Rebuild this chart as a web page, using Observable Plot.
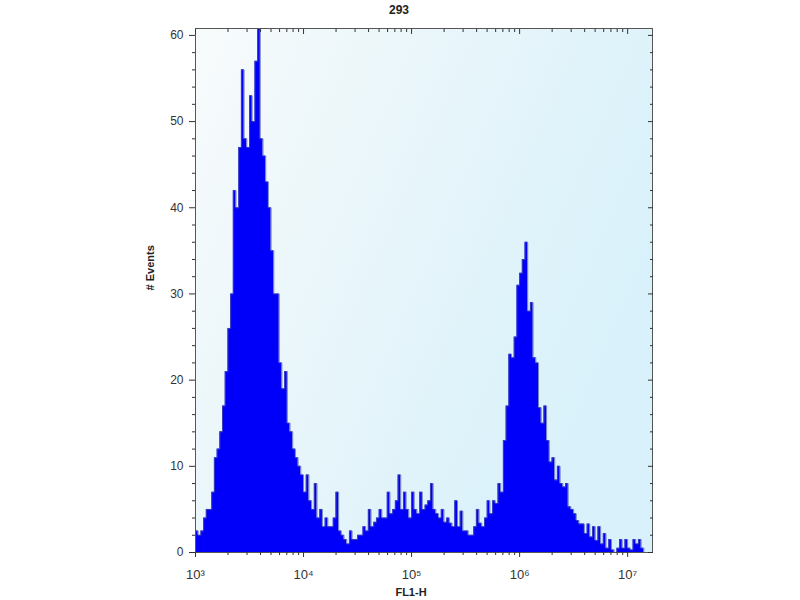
<!DOCTYPE html>
<html><head><meta charset="utf-8">
<script src="https://cdn.jsdelivr.net/npm/d3@7"></script>
<script src="https://cdn.jsdelivr.net/npm/@observablehq/plot@0.6"></script>
<style>body{margin:0;background:#fff;} #chart svg{display:block;}</style>
</head><body><div id="chart"></div>
<script>
const title = "293";
const xLabel = "FL1-H";
const yLabel = "# Events";
// histogram channels: log10 start and channel width (decades)
const logStart = 3;
const binWidth = 0.025;
const counts = [
 2.5, 2, 2.5, 4, 5, 5, 7, 11, 12, 14,
 17, 21, 26, 30, 42, 40, 47, 56, 48, 47,
 53, 50, 57, 62, 48, 46, 43, 40, 35, 30,
 30, 22, 19, 21, 15, 14, 12, 11, 10, 9,
 7, 9, 6, 5, 8, 4, 5, 3, 4, 3,
 3, 4, 7, 2.5, 2, 1.5, 1, 2.5, 1.5, 1.5,
 2, 2, 3, 2.5, 5, 3, 3.5, 4, 5, 4,
 4, 7, 4.5, 5, 6, 9, 5, 7, 5, 4,
 7, 5, 4.5, 7, 5, 5.5, 6, 8, 5, 4.5,
 4, 5, 3.5, 4, 3.4, 3, 6, 3, 4.8, 2.5,
 2.5, 2, 2, 3, 5, 3.4, 3, 4, 6, 4.5,
 6, 5.7, 8, 7, 13, 17, 23, 22.6, 25, 31,
 32.4, 34, 36, 28, 29, 22.6, 22, 16.8, 15, 17,
 13, 10.5, 11, 8.4, 10, 8, 7.6, 8, 5.3, 5,
 4.5, 3.7, 3.3, 3.3, 2.2, 3.3, 1.8, 3, 1.4, 3,
 1, 2.2, 0.5, 1.5, 0.3, 0, 0.5, 1.5, 0.5, 1.5,
 0.5, 0.3, 1.5, 1, 1.5, 0.5, 0
];
const xMajorTicks = [1e3, 1e4, 1e5, 1e6, 1e7];
const xTickLabels = ["10³", "10⁴", "10⁵", "10⁶", "10⁷"];
const xMinorMultipliers = [2, 3, 4, 5, 6, 7, 8, 9];
const yMajorTicks = [0, 10, 20, 30, 40, 50, 60];
const yMinorTicks = [2,4,6,8,12,14,16,18,22,24,26,28,32,34,36,38,42,44,46,48,52,54,56,58];
const xDomain = [1e3, Math.pow(10, 7.23)];
const yDomain = [0, 60.8];

const bins = counts.map((c, i) => ({
  x1: Math.pow(10, logStart + i * binWidth),
  x2: Math.pow(10, logStart + (i + 1) * binWidth),
  y: c
}));
const steps = bins.flatMap(b => [{x: b.x1, y: b.y}, {x: b.x2, y: b.y}]);
const xMinorTicks = xMajorTicks.slice(0, 4).flatMap(d => xMinorMultipliers.map(m => d * m));

const labelOf = d => xTickLabels[xMajorTicks.indexOf(d)];
const axisColor = "#333";

const chart = Plot.plot({
  width: 800,
  height: 600,
  marginLeft: 195,
  marginRight: 148,
  marginTop: 28,
  marginBottom: 48,
  style: {fontFamily: "Liberation Sans, Arial, sans-serif", color: axisColor, background: "#fff"},
  x: {type: "log", domain: xDomain},
  y: {domain: yDomain},
  marks: [
    Plot.frame({fill: "url(#bggrad)", stroke: null}),
    Plot.areaY(steps, {x: "x", y1: 0, y2: "y", fill: "#0000fa", clip: true}),
    Plot.line(steps, {x: "x", y: "y", stroke: "#4f56a8", strokeWidth: 0.9, strokeOpacity: 0.8, clip: true}),
    Plot.frame({stroke: "#555", strokeWidth: 1}),
    // bottom axis
    Plot.axisX(xMajorTicks, {anchor: "bottom", tickSize: 5, tickPadding: 12, tickFormat: labelOf, fontSize: 13, label: null}),
    Plot.axisX(xMinorTicks, {anchor: "bottom", tickSize: 3, text: null, label: null}),
    // top axis (ticks only)
    Plot.axisX(xMajorTicks, {anchor: "top", tickSize: -5, text: null, label: null}),
    Plot.axisX(xMinorTicks, {anchor: "top", tickSize: -3, text: null, label: null}),
    // left axis
    Plot.axisY(yMajorTicks, {anchor: "left", tickSize: 6, tickPadding: 6, fontSize: 12, label: null}),
    Plot.axisY(yMinorTicks, {anchor: "left", tickSize: 3, text: null, label: null}),
    // right axis (ticks only)
    Plot.axisY(yMajorTicks, {anchor: "right", tickSize: -5, text: null, label: null}),
    Plot.axisY(yMinorTicks, {anchor: "right", tickSize: -3, text: null, label: null}),
    Plot.text([title], {frameAnchor: "top", dy: -18, dx: -25, lineAnchor: "middle", fontWeight: "bold", fontSize: 12, fill: "#222"}),
    Plot.text([yLabel], {frameAnchor: "left", dx: -45, rotate: -90, fontWeight: "bold", fontSize: 11, fill: "#222"}),
    Plot.text([xLabel], {frameAnchor: "bottom", dy: 40, dx: -13, lineAnchor: "middle", fontWeight: "bold", fontSize: 11, fill: "#222"})
  ]
});

const svg = d3.select(chart);
const defs = svg.insert("defs", ":first-child");
const grad = defs.append("linearGradient").attr("id", "bggrad")
  .attr("x1", "0").attr("y1", "0").attr("x2", "1").attr("y2", "0.5");
grad.append("stop").attr("offset", "0%").attr("stop-color", "#f8fbfc");
grad.append("stop").attr("offset", "40%").attr("stop-color", "#eaf6fa");
grad.append("stop").attr("offset", "100%").attr("stop-color", "#d8f1fa");

document.getElementById("chart").appendChild(chart);
</script>
</body></html>
